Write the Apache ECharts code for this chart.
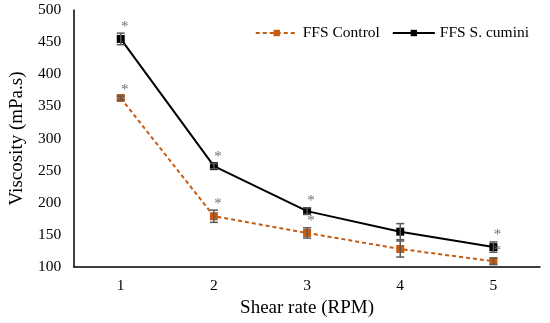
<!DOCTYPE html>
<html>
<head>
<meta charset="utf-8">
<script src="https://cdn.jsdelivr.net/npm/echarts@6/dist/echarts.min.js"></script>
<style>html,body{margin:0;padding:0;background:#fff;}#c{width:550px;height:323px;}</style>
</head>
<body>
<div id="c"></div>
<script>
const categories = ['1', '2', '3', '4', '5'];
const controlValues = [363, 179, 153, 128, 109];
const controlErrors = [3, 9.5, 8, 12.5, 5];
const controlStars = [1, 1, 1, 0, 1];
const cuminiValues = [455, 257, 187, 155, 131];
const cuminiErrors = [9, 4, 5, 12.5, 8];
const cuminiStars = [1, 1, 1, 0, 1];
const yTicks = [100, 150, 200, 250, 300, 350, 400, 450, 500];

const FONT = '"Liberation Serif", "Times New Roman", serif';

function errData(vals, errs, stars) {
  return vals.map((v, i) => [i, v, errs[i], stars[i]]);
}

function errRender(params, api) {
  const i = api.value(0), v = api.value(1), e = api.value(2), s = api.value(3);
  const top = api.coord([i, v + e]);
  const bot = api.coord([i, v - e]);
  const cap = 4;
  const st = { stroke: '#595959', lineWidth: 1.5 };
  const children = [
    { type: 'line', shape: { x1: top[0], y1: top[1], x2: bot[0], y2: bot[1] }, style: st },
    { type: 'line', shape: { x1: top[0] - cap, y1: top[1], x2: top[0] + cap, y2: top[1] }, style: st },
    { type: 'line', shape: { x1: bot[0] - cap, y1: bot[1], x2: bot[0] + cap, y2: bot[1] }, style: st }
  ];
  if (s) {
    children.push({ type: 'text', x: top[0] + 4, y: top[1] + 1,
      style: { text: '*', fill: '#6f6f6f', font: '15px ' + FONT, align: 'center', verticalAlign: 'bottom' } });
  }
  return { type: 'group', children };
}

const chart = echarts.init(document.getElementById('c'));
chart.setOption({
  animation: false,
  grid: { left: 71, right: 10, top: 10, bottom: 56 },
  legend: {
    right: 16, top: 20,
    itemWidth: 42, itemHeight: 8, itemGap: 12,
    textStyle: { fontFamily: FONT, fontSize: 15.5, color: '#000' },
    data: ['FFS Control', 'FFS S. cumini']
  },
  xAxis: {
    type: 'category', data: categories, boundaryGap: true,
    axisLine: { lineStyle: { color: '#000', width: 1.5 } },
    axisTick: { show: false },
    axisLabel: { color: '#000', fontFamily: FONT, fontSize: 15.5, margin: 11 },
    name: 'Shear rate (RPM)', nameLocation: 'middle', nameGap: 31,
    nameTextStyle: { color: '#000', fontFamily: FONT, fontSize: 19 }
  },
  yAxis: {
    type: 'value', min: yTicks[0], max: yTicks[yTicks.length - 1], interval: 50,
    axisLine: { show: true, lineStyle: { color: '#000', width: 1.5 } },
    axisTick: { show: false },
    splitLine: { show: false },
    axisLabel: { color: '#000', fontFamily: FONT, fontSize: 15.5, margin: 13 },
    name: 'Viscosity (mPa.s)', nameLocation: 'middle', nameGap: 47,
    nameTextStyle: { color: '#000', fontFamily: FONT, fontSize: 19 }
  },
  series: [
    {
      name: 'FFS Control', type: 'line', data: controlValues,
      symbol: 'rect', symbolSize: 8,
      itemStyle: { color: '#C55A11' },
      lineStyle: { color: '#C55A11', width: 2, type: [4, 3] }, z: 3
    },
    {
      name: 'FFS S. cumini', type: 'line', data: cuminiValues,
      symbol: 'rect', symbolSize: 8,
      itemStyle: { color: '#000' },
      lineStyle: { color: '#000', width: 2 }, z: 3
    },
    { type: 'custom', renderItem: errRender, data: errData(controlValues, controlErrors, controlStars), z: 4, silent: true },
    { type: 'custom', renderItem: errRender, data: errData(cuminiValues, cuminiErrors, cuminiStars), z: 4, silent: true }
  ]
});
</script>
</body>
</html>
